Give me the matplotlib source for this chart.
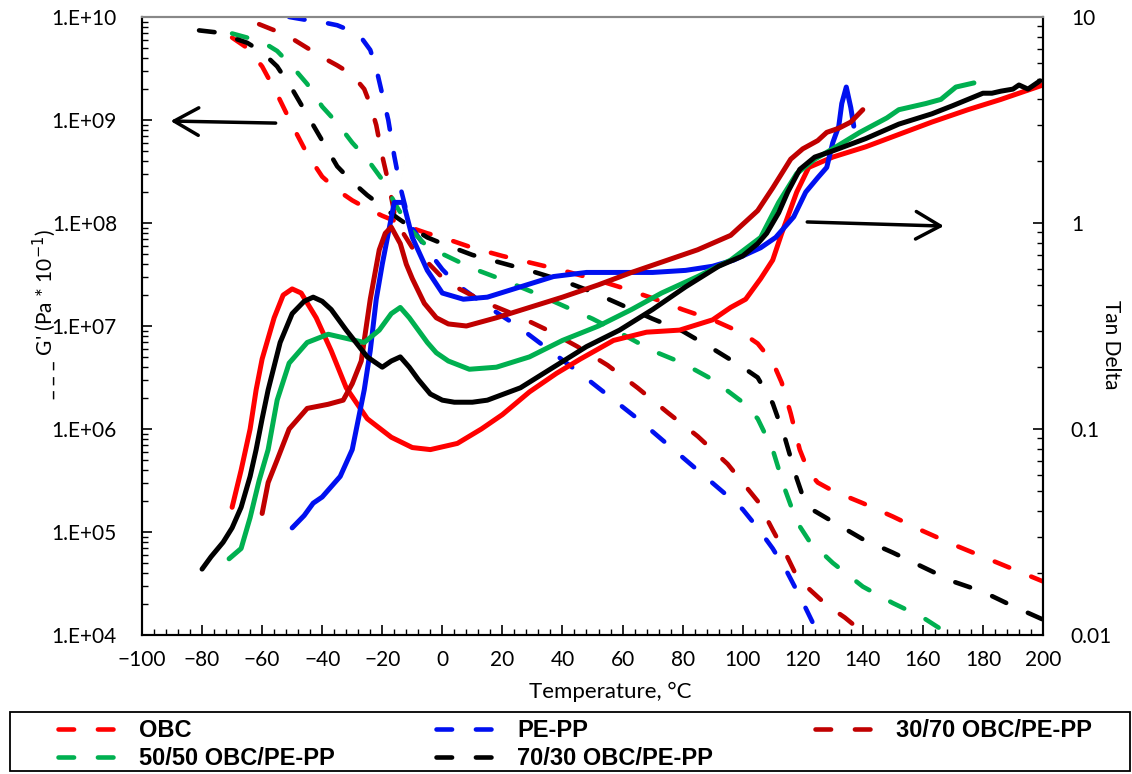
import numpy as np
import matplotlib
matplotlib.use("Agg")
import matplotlib.pyplot as plt
from matplotlib.ticker import MultipleLocator, FuncFormatter, LogLocator, NullFormatter
from matplotlib.patches import Rectangle

plt.rcParams['font.family'] = ['Lato', 'DejaVu Sans']

# ---- storage modulus G' (log10 of Pa*10^-1), dashed lines ----
obc_T_g = [-70, -65, -60, -55, -50, -45, -40, -35, -30, -25, -20, -15, -10, -5, 0, 10, 20, 30, 40, 50,
           60, 70, 80, 90, 100, 105, 110, 113, 116, 119, 122, 125, 130, 140, 150, 160, 170, 180, 190, 200]
obc_logg = [9.80, 9.70, 9.52, 9.25, 8.95, 8.67, 8.45, 8.32, 8.22, 8.14, 8.07, 8.01, 7.95, 7.90, 7.86, 7.76,
            7.68, 7.61, 7.54, 7.46, 7.37, 7.27, 7.16, 7.06, 6.93, 6.83, 6.65, 6.45, 6.15, 5.80, 5.58, 5.48,
            5.40, 5.28, 5.15, 5.01, 4.88, 4.76, 4.64, 4.52]

pepp_T_g = [-51, -45, -40, -35, -30, -27, -24, -22, -20, -18, -16, -14, -12, -10, -6, 0, 5, 15, 25, 35,
            45, 55, 65, 75, 85, 95, 100, 105, 110, 115, 120, 124]
pepp_logg = [10.0, 9.97, 9.95, 9.92, 9.86, 9.80, 9.68, 9.50, 9.25, 9.00, 8.65, 8.35, 8.12, 7.95, 7.78,
             7.55, 7.40, 7.19, 7.00, 6.78, 6.56, 6.33, 6.10, 5.85, 5.60, 5.35, 5.22, 5.04, 4.84, 4.60,
             4.32, 4.08]

b3070_T_g = [-61, -55, -50, -45, -40, -35, -30, -26, -24, -22, -20, -18, -16, -13, -10, -5, 0, 5, 15, 25,
             35, 45, 55, 65, 75, 85, 95, 100, 105, 110, 115, 118, 122, 128, 134, 139, 141]
b3070_logg = [9.93, 9.86, 9.79, 9.70, 9.61, 9.53, 9.44, 9.30, 9.15, 8.95, 8.65, 8.40, 8.10, 7.90, 7.76,
              7.62, 7.47, 7.37, 7.22, 7.10, 6.96, 6.80, 6.62, 6.40, 6.16, 5.93, 5.66, 5.48, 5.30, 5.02,
              4.75, 4.57, 4.45, 4.29, 4.17, 4.05, 4.00]

b5050_T_g = [-70, -65, -60, -55, -50, -45, -40, -35, -30, -25, -20, -15, -10, -5, 0, 10, 20, 30, 40, 50,
             60, 70, 80, 90, 100, 105, 110, 114, 118, 122, 130, 140, 150, 160, 168]
b5050_logg = [9.84, 9.80, 9.76, 9.67, 9.52, 9.35, 9.13, 8.97, 8.78, 8.62, 8.42, 8.15, 7.92, 7.77, 7.70,
              7.56, 7.45, 7.33, 7.20, 7.07, 6.92, 6.76, 6.64, 6.48, 6.26, 6.10, 5.80, 5.42, 5.10, 4.92,
              4.70, 4.47, 4.31, 4.17, 4.02]

b7030_T_g = [-81, -75, -70, -65, -60, -55, -50, -45, -40, -35, -30, -25, -20, -15, -10, -5, 0, 10, 20, 30,
             40, 50, 60, 70, 80, 90, 100, 105, 110, 114, 118, 120, 123, 130, 140, 150, 160, 170, 180,
             190, 200]
b7030_logg = [9.87, 9.85, 9.80, 9.75, 9.66, 9.52, 9.30, 9.05, 8.80, 8.55, 8.40, 8.27, 8.16, 8.05, 7.95,
              7.86, 7.80, 7.69, 7.61, 7.53, 7.44, 7.33, 7.20, 7.07, 6.95, 6.78, 6.60, 6.50, 6.25, 5.92,
              5.52, 5.35, 5.22, 5.10, 4.93, 4.80, 4.66, 4.52, 4.42, 4.28, 4.15]

# ---- tan delta (log10), solid lines ----
obc_T_t = [-70, -67, -64, -62, -60, -56, -53, -50, -47, -42, -37, -32, -25, -17, -10, -4, 5, 13, 20, 29,
           38, 46, 57, 68, 79, 90, 96, 101, 106, 110, 113, 118, 122, 130, 141, 152, 163, 175, 186, 200]
obc_logt = [-1.38, -1.20, -1.00, -0.81, -0.66, -0.46, -0.35, -0.32, -0.34, -0.46, -0.62, -0.80, -0.95,
            -1.04, -1.09, -1.10, -1.07, -1.00, -0.93, -0.82, -0.73, -0.66, -0.57, -0.53, -0.52, -0.47,
            -0.41, -0.37, -0.27, -0.18, -0.05, 0.15, 0.27, 0.32, 0.37, 0.43, 0.49, 0.55, 0.60, 0.67]

pepp_T_t = [-50, -46, -43, -40, -34, -30, -26, -24, -22, -20, -18, -16, -13, -10, -5, 0, 7, 15, 26, 37,
            48, 59, 70, 81, 90, 97, 106, 111, 117, 121, 125, 128, 130, 132, 133, 134.5, 136, 137]
pepp_logt = [-1.48, -1.42, -1.36, -1.33, -1.23, -1.10, -0.81, -0.62, -0.37, -0.20, -0.05, 0.10, 0.10,
             -0.07, -0.23, -0.34, -0.37, -0.36, -0.31, -0.26, -0.24, -0.24, -0.24, -0.23, -0.21, -0.18,
             -0.12, -0.07, 0.03, 0.15, 0.22, 0.27, 0.39, 0.47, 0.58, 0.66, 0.56, 0.47]

b3070_T_t = [-60, -58, -55, -51, -45, -38, -33, -30, -27, -24, -21, -19, -17, -14, -12, -10, -6, -2, 2, 8,
             18, 29, 40, 52, 63, 73, 85, 96, 105, 110, 116, 120, 125, 128, 132, 136, 140]
b3070_logt = [-1.41, -1.26, -1.15, -1.00, -0.90, -0.88, -0.86, -0.78, -0.67, -0.37, -0.13, -0.05, -0.02,
              -0.10, -0.20, -0.27, -0.39, -0.46, -0.49, -0.50, -0.46, -0.41, -0.36, -0.30, -0.24, -0.19,
              -0.13, -0.06, 0.06, 0.17, 0.31, 0.36, 0.40, 0.44, 0.46, 0.49, 0.55]

b5050_T_t = [-71, -67, -64, -61, -58, -55, -51, -45, -38, -32, -26, -21, -17, -14, -11, -8, -5, -2, 2, 9,
             18, 29, 40, 52, 63, 73, 85, 96, 106, 112, 118, 124, 130, 139, 148, 152, 161, 166, 171, 177]
b5050_logt = [-1.63, -1.58, -1.43, -1.25, -1.10, -0.86, -0.68, -0.58, -0.54, -0.56, -0.58, -0.52, -0.44,
              -0.41, -0.46, -0.52, -0.58, -0.63, -0.67, -0.71, -0.70, -0.65, -0.57, -0.50, -0.42, -0.34,
              -0.26, -0.18, -0.07, 0.10, 0.24, 0.31, 0.36, 0.44, 0.51, 0.55, 0.58, 0.60, 0.66, 0.68]

b7030_T_t = [-80, -77, -73, -70, -67, -64, -62, -60, -58, -54, -50, -46, -43, -40, -37, -32, -25, -20, -17,
             -14, -11, -8, -4, 0, 4, 10, 15, 26, 37, 48, 59, 70, 81, 92, 100, 105, 108, 112, 115, 119,
             124, 130, 141, 152, 163, 170, 175, 180, 183, 186, 190, 192, 195, 199]
b7030_logt = [-1.68, -1.62, -1.55, -1.48, -1.38, -1.23, -1.10, -0.95, -0.81, -0.58, -0.44, -0.38, -0.36,
              -0.38, -0.42, -0.52, -0.65, -0.70, -0.67, -0.65, -0.70, -0.76, -0.83, -0.86, -0.87, -0.87,
              -0.86, -0.80, -0.70, -0.60, -0.52, -0.42, -0.31, -0.21, -0.16, -0.10, -0.05, 0.05, 0.15,
              0.26, 0.32, 0.35, 0.41, 0.48, 0.53, 0.57, 0.60, 0.63, 0.63, 0.64, 0.65, 0.67, 0.65, 0.69]

names = ['OBC', 'PE-PP', '30/70 OBC/PE-PP', '50/50 OBC/PE-PP', '70/30 OBC/PE-PP']
colors = ['#FF0000', '#0010F0', '#C00000', '#00B050', '#000000']
g_T = [obc_T_g, pepp_T_g, b3070_T_g, b5050_T_g, b7030_T_g]
g_log = [obc_logg, pepp_logg, b3070_logg, b5050_logg, b7030_logg]
t_T = [obc_T_t, pepp_T_t, b3070_T_t, b5050_T_t, b7030_T_t]
t_log = [obc_logt, pepp_logt, b3070_logt, b5050_logt, b7030_logt]

W, H = 1132, 774
fig = plt.figure(figsize=(W/100, H/100), dpi=100)
ax = fig.add_axes([142/W, 1-635/H, 901/W, 618/H])
ax2 = ax.twinx()

dash = (3.4, 5.2)
handles = []
for i in range(5):
    l, = ax.plot(g_T[i], 10**np.array(g_log[i]), color=colors[i], lw=3.3,
                 dashes=dash, dash_capstyle='round', solid_capstyle='round')
    handles.append(l)
    ax2.plot(t_T[i], 10**np.array(t_log[i]), color=colors[i], lw=3.6,
             solid_capstyle='round', solid_joinstyle='round')

ax.set_yscale('log')
ax.set_ylim(1e4, 1e10)
ax.set_xlim(-100, 200)
ax2.set_yscale('log')
ax2.set_ylim(0.01, 10)

ax.xaxis.set_major_locator(MultipleLocator(20))
ax.xaxis.set_minor_locator(MultipleLocator(4))
ax.yaxis.set_major_locator(LogLocator(base=10, numticks=10))
ax.yaxis.set_minor_locator(LogLocator(base=10, subs=np.arange(2, 10), numticks=20))
ax.yaxis.set_minor_formatter(NullFormatter())
ax.yaxis.set_major_formatter(FuncFormatter(lambda v, p: '1.E+%02d' % round(np.log10(v))))
ax2.yaxis.set_minor_locator(LogLocator(base=10, subs=np.arange(2, 10), numticks=20))
ax2.yaxis.set_minor_formatter(NullFormatter())
ax2.yaxis.set_major_formatter(FuncFormatter(lambda v, p: '%g' % v))

for a in (ax, ax2):
    a.tick_params(which='major', direction='in', length=7, width=1.2, labelsize=15)
    a.tick_params(which='minor', direction='in', length=4, width=1.0)
    for s in a.spines.values():
        s.set_linewidth(1.5)
    a.spines['top'].set_color('#888888')
ax.tick_params(axis='y', pad=18)
ax2.tick_params(axis='y', pad=20)
ax.tick_params(axis='x', pad=11)

ax.set_xlabel('Temperature, °C', fontsize=16)
ax.xaxis.set_label_coords((610-142)/901, (635-682)/618)
ax.set_ylabel("_ _ _ G' (Pa * 10$^{-1}$)", fontsize=15)
ax.yaxis.set_label_coords((58-142)/901, (635-315)/618)
ax2.set_ylabel('Tan Delta', fontsize=15, rotation=270, va='center')
ax2.yaxis.set_label_coords((1111-142)/901, (635-345)/618)

ax.annotate('', xy=(-90.5, 10**8.99), xytext=(-55.5, 10**8.97),
            arrowprops=dict(arrowstyle='->,head_length=0.8,head_width=0.45', lw=2.5, color='black',
                            mutation_scale=22, shrinkA=0, shrinkB=0))
ax2.annotate('', xy=(167, 10**-0.015), xytext=(121.5, 10**0.005),
             arrowprops=dict(arrowstyle='->,head_length=0.8,head_width=0.45', lw=2.5, color='black',
                             mutation_scale=22, shrinkA=0, shrinkB=0))

# legend box
fig.patches.append(Rectangle((10/W, 1-771/H), 1120/W, 59/H, transform=fig.transFigure,
                             fill=False, edgecolor='black', lw=1.3))
order = [0, 3, 1, 4, 2]
leg = fig.legend([handles[i] for i in order], [names[i] for i in order],
                 loc='upper left', bbox_to_anchor=(58/W, 1-719/H),
                 ncol=3, frameon=False, handlelength=2.67,
                 prop={'family': 'Liberation Sans', 'weight': 'bold', 'size': 17},
                 borderaxespad=0, borderpad=0, labelspacing=0.22, handletextpad=0.76,
                 columnspacing=4.3)

fig.savefig('out.png', dpi=100)
